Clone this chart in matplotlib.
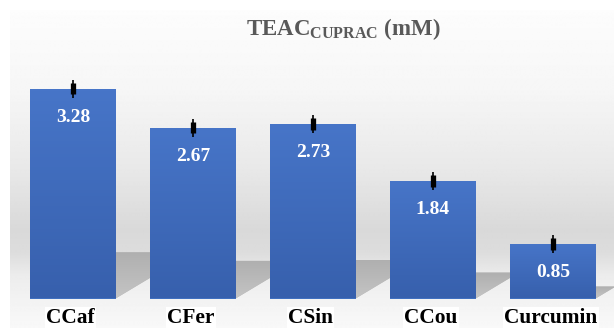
import numpy as np
import matplotlib
matplotlib.use('Agg')
import matplotlib.pyplot as plt
from matplotlib.colors import LinearSegmentedColormap
from matplotlib.patches import Polygon

names = ['CCaf', 'CFer', 'CSin', 'CCou', 'Curcumin']
values = [3.28, 2.67, 2.73, 1.84, 0.85]
errors = [0.14, 0.14, 0.14, 0.14, 0.14]

plt.rcParams['font.family'] = 'Liberation Serif'
plt.rcParams['mathtext.fontset'] = 'custom'
plt.rcParams['mathtext.rm'] = 'Liberation Serif'
plt.rcParams['mathtext.bf'] = 'Liberation Serif:bold'

W, H = 614, 328
X0, XS = 73.0, 120.0      # pixel of first category, pixels per category
Y0, YS = 298.5, 64.0      # pixel of zero, pixels per mM


def px2x(p):
    return (p - X0) / XS


def px2y(p):
    return (Y0 - p) / YS


fig = plt.figure(figsize=(W / 100, H / 100), dpi=100)
ax = fig.add_axes([0, 0, 1, 1])
ax.axis('off')

# wall / floor background
rows = np.arange(10, H + 1)
gray = np.interp(rows, [10, 90, 170, 230, 252, 275, 298, 328],
                 [0.99, 0.965, 0.91, 0.85, 0.865, 0.925, 0.95, 0.975])
bg = np.repeat(gray[:, None], 2, axis=1)
ax.imshow(bg, cmap='gray', vmin=0, vmax=1, aspect='auto', interpolation='bilinear',
          extent=[px2x(10), px2x(W), px2y(H), px2y(10)], zorder=0)

x = np.arange(len(names))
w = 0.71
grad = np.linspace(0, 1, 64)[:, None]
bar_cmap = LinearSegmentedColormap.from_list('b', ['#3760ad', '#4775c8'])
sh_cmap = LinearSegmentedColormap.from_list('s', ['#c4c4c4', '#afafaf'])

# shadows on the floor
for xi, v in zip(x, values):
    dy = 0.22 * v
    dx = 1.67 * dy * YS / XS
    poly = Polygon([(xi - w / 2, 0), (xi + w / 2, 0), (xi + w / 2 + dx, dy), (xi - w / 2 + dx, dy)],
                   closed=True, fc='#b8b8b8', ec='none', zorder=1)
    ax.add_patch(poly)
    im = ax.imshow(grad, cmap=sh_cmap, aspect='auto', origin='lower',
                   extent=[xi - w / 2, xi + w / 2 + dx, 0, dy], zorder=1.5)
    im.set_clip_path(poly)

bars = ax.bar(x, values, width=w, color='#4070c0', edgecolor='none', zorder=3)
for b in bars:
    im = ax.imshow(grad, cmap=bar_cmap, aspect='auto', origin='lower',
                   extent=[b.get_x(), b.get_x() + b.get_width(), 0, b.get_height()], zorder=3.5)
    im.set_clip_path(b)

ax.errorbar(x, values, yerr=errors, fmt='none', ecolor='black', elinewidth=1.2, capsize=0, zorder=5)
ax.vlines(x, np.array(values) - 0.65 * np.array(errors), np.array(values) + 0.65 * np.array(errors),
          color='black', lw=3.8, zorder=6)

for xi, v in zip(x, values):
    ax.annotate(f'{v:.2f}', (xi, v), xytext=(0, -20.5), textcoords='offset points',
                ha='center', va='center', color='white', fontsize=14, fontweight='bold', zorder=7)

for xi, n in zip(x, names):
    ax.text(xi - 0.02, px2y(318), n, ha='center', va='center', fontsize=15.4, fontweight='bold',
            color='black', zorder=7, bbox=dict(fc='white', ec='none', pad=1))

fig.text(343 / W, 1 - 35 / H, r'TEAC$_{\mathbf{CUPRAC}}$ (mM)', ha='center', va='baseline',
         fontsize=16.5, fontweight='bold', color='#595959')

ax.set_xlim(px2x(0), px2x(W))
ax.set_ylim(px2y(H), px2y(0))

fig.savefig('out.png', dpi=100, facecolor='white')
